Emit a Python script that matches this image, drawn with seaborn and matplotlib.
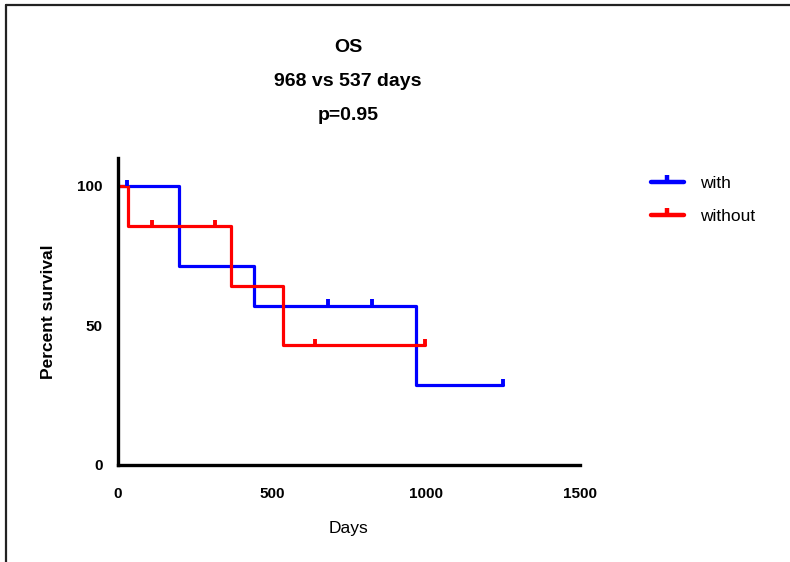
import matplotlib
matplotlib.use("Agg")
import matplotlib.pyplot as plt
from matplotlib.lines import Line2D
import numpy as np
import pandas as pd
import seaborn as sns

# Kaplan-Meier step curves: time at which each level starts, and survival (%)
with_times = [0, 198, 441, 968, 1250]
with_surv = [100.0, 71.4, 57.1, 28.6, 28.6]
with_censor_t = [29, 682, 825, 1250]
with_censor_s = [100.0, 57.1, 57.1, 28.6]

without_times = [0, 32, 367, 537, 997]
without_surv = [100.0, 85.7, 64.3, 42.9, 42.9]
without_censor_t = [110, 315, 640, 997]
without_censor_s = [85.7, 85.7, 42.9, 42.9]

group_names = ["with", "without"]
group_colors = ["#0000FF", "#FF0000"]

title_lines = ["OS", "968 vs 537 days", "p=0.95"]
x_ticks = [0, 500, 1000, 1500]
y_ticks = [0, 50, 100]

sns.set_style("white")
plt.rcParams["font.family"] = ["Liberation Sans", "DejaVu Sans"]
for key in ["text.color", "axes.labelcolor", "xtick.color", "ytick.color"]:
    plt.rcParams[key] = "black"

steps = pd.concat([
    pd.DataFrame({"Days": with_times, "Survival": with_surv, "group": group_names[0]}),
    pd.DataFrame({"Days": without_times, "Survival": without_surv, "group": group_names[1]}),
])
censors = pd.concat([
    pd.DataFrame({"Days": with_censor_t, "Survival": with_censor_s, "group": group_names[0]}),
    pd.DataFrame({"Days": without_censor_t, "Survival": without_censor_s, "group": group_names[1]}),
])

fig = plt.figure(figsize=(7.9, 5.62), dpi=100)
ax = fig.add_axes([118 / 790, 97 / 562, 462 / 790, 307 / 562])

palette = dict(zip(group_names, group_colors))
sns.lineplot(data=steps, x="Days", y="Survival", hue="group", palette=palette,
             drawstyle="steps-post", linewidth=2.3, ax=ax, legend=False,
             estimator=None, sort=False)

# censor ticks: short vertical marks sitting on top of the curve
for name, sub in censors.groupby("group"):
    ax.errorbar(sub["Days"], sub["Survival"] + 1.1, yerr=1.1, fmt="none",
                ecolor=palette[name], elinewidth=2.8, capsize=0, zorder=3)

ax.set_xlim(0, 1500)
ax.set_ylim(0, 110)
ax.set_xticks(x_ticks)
ax.set_yticks(y_ticks)
ax.set_xticklabels([str(t) for t in x_ticks], fontsize=11, fontweight="bold")
ax.set_yticklabels([str(t) for t in y_ticks], fontsize=11, fontweight="bold")
ax.tick_params(axis="x", direction="out", length=6, width=2.2, pad=10)
ax.tick_params(axis="y", direction="out", length=7, width=2.2, pad=4)
for side in ["top", "right"]:
    ax.spines[side].set_visible(False)
for side in ["left", "bottom"]:
    ax.spines[side].set_linewidth(2.4)
    ax.spines[side].set_color("black")

ax.set_xlabel("Days", fontsize=12.5, labelpad=14)
ax.set_ylabel("Percent survival", fontsize=12.5, fontweight="bold", labelpad=15)

for text, ypx in zip(title_lines, [47, 82, 116]):
    fig.text(348 / 790, 1 - ypx / 562, text, ha="center", va="center",
             fontsize=14, fontweight="bold")

# legend entries: coloured line with an upward censor tick
tick_marker = [(0, 0), (0, 1)]
handles = []
for c in group_colors:
    handles.append(Line2D([0], [0], color=c, linewidth=3.2,
                          marker=tick_marker, markersize=10,
                          markeredgewidth=3.2, markeredgecolor=c))
fig.legend(handles, group_names, loc="upper left",
           bbox_to_anchor=(635 / 790, 1 - 160 / 562), frameon=False,
           fontsize=12.5, handlelength=1.9, handletextpad=0.95, labelspacing=1.05)

# outer frame along the top and left edges
fig.add_artist(Line2D([6 / 790, 1.0], [1 - 5 / 562, 1 - 5 / 562],
                      transform=fig.transFigure, color="#222222", linewidth=1.6))
fig.add_artist(Line2D([6 / 790, 6 / 790], [0.0, 1 - 5 / 562],
                      transform=fig.transFigure, color="#222222", linewidth=1.6))

fig.savefig("out.png", dpi=100, facecolor="white")
